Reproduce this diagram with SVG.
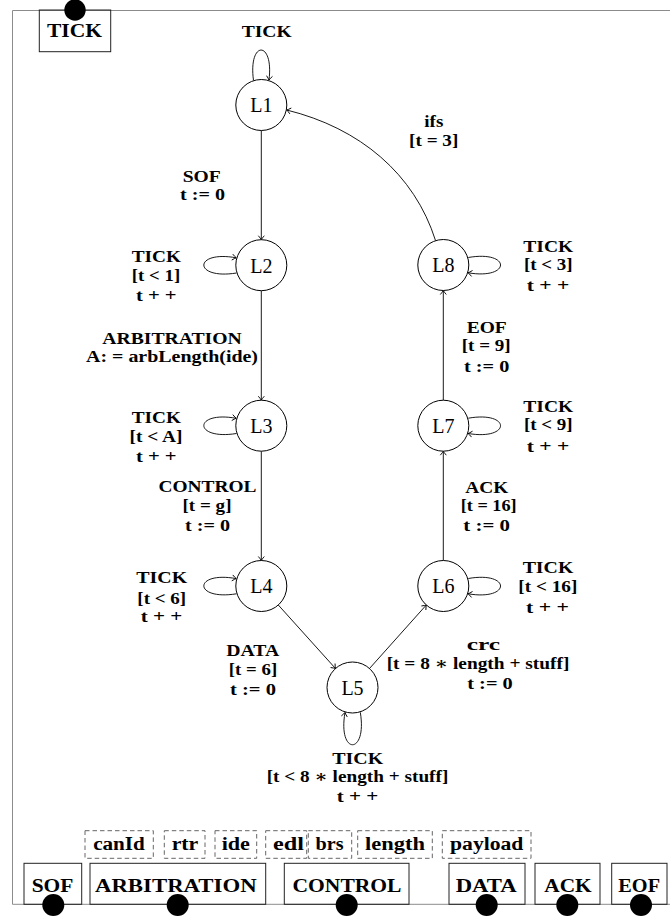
<svg xmlns="http://www.w3.org/2000/svg" width="670" height="918" viewBox="0 0 670 918">
<style>
.fr{fill:none;stroke:#8c8c8c;stroke-width:1}
.st{fill:#fff;stroke:#000;stroke-width:1}
.bx{fill:none;stroke:#222;stroke-width:1}
.db{fill:none;stroke:#666;stroke-width:1;stroke-dasharray:4.5 3}
.dot{fill:#000}
.e{fill:none;stroke:#000;stroke-width:0.9;marker-end:url(#arr)}
.lb{font-family:"Liberation Serif","DejaVu Serif",serif;font-weight:bold;font-size:16.8px;text-anchor:middle;fill:#000}
.ls{font-size:16px}
.bl{font-family:"Liberation Serif","DejaVu Serif",serif;font-weight:bold;font-size:18.5px;text-anchor:middle;fill:#000}
.nl{font-family:"Liberation Serif","DejaVu Serif",serif;font-size:20px;text-anchor:middle;fill:#000}
</style>
<defs>
<marker id="arr" viewBox="-5 -4 6 8" markerWidth="6" markerHeight="8" refX="0" refY="0" orient="auto" markerUnits="userSpaceOnUse">
<path d="M-4,-3 Q-1.2,-0.6 0,0 Q-1.2,0.6 -4,3" fill="none" stroke="#000" stroke-width="0.9"/>
</marker>
</defs>
<rect width="670" height="918" fill="#fff"/>
<path class="fr" d="M670,10.5 H12.5 V904.3 H670"/>

<g id="connectors">
<g id="e-L1-L1"><path class="e" d="M253.5,80.5 C248,40 274,40 269,80"/><text class="lb" x="266.7" y="36.7" textLength="50" lengthAdjust="spacingAndGlyphs">TICK</text></g>
<g id="e-L1-L2"><path class="e" d="M261.3,130.5 V239.7"/><text class="lb ls" x="201.7" y="181.8" textLength="38" lengthAdjust="spacingAndGlyphs">SOF</text><text class="lb ls" x="202.5" y="200.3" textLength="45" lengthAdjust="spacingAndGlyphs">t := 0</text></g>
<g id="e-L2-L2"><path class="e" d="M236.5,273 C193,280 193,250 236.2,257.8"/><text class="lb" x="156.3" y="261.7" textLength="49.3" lengthAdjust="spacingAndGlyphs">TICK</text><text class="lb" x="156" y="280.5" textLength="48.3" lengthAdjust="spacingAndGlyphs">[t &lt; 1]</text><text class="lb" x="156.3" y="301.3" textLength="40.7" lengthAdjust="spacingAndGlyphs">t + +</text></g>
<g id="e-L2-L3"><path class="e" d="M261.3,290.7 V400.2"/><text class="lb ls" x="172" y="343.5" textLength="139.5" lengthAdjust="spacingAndGlyphs">ARBITRATION</text><text class="lb ls" x="172" y="362" textLength="172" lengthAdjust="spacingAndGlyphs">A: = arbLength(ide)</text></g>
<g id="e-L3-L3"><path class="e" d="M236.5,433.5 C193,440.5 193,410.5 236.2,418.3"/><text class="lb" x="156.3" y="422.7" textLength="49.3" lengthAdjust="spacingAndGlyphs">TICK</text><text class="lb" x="156" y="441.5" textLength="53" lengthAdjust="spacingAndGlyphs">[t &lt; A]</text><text class="lb" x="156.3" y="462" textLength="40.7" lengthAdjust="spacingAndGlyphs">t + +</text></g>
<g id="e-L3-L4"><path class="e" d="M261.3,451.2 V560.5"/><text class="lb" x="207.5" y="492" textLength="98" lengthAdjust="spacingAndGlyphs">CONTROL</text><text class="lb" x="207" y="511" textLength="49" lengthAdjust="spacingAndGlyphs">[t = g]</text><text class="lb" x="207.5" y="531" textLength="45" lengthAdjust="spacingAndGlyphs">t := 0</text></g>
<g id="e-L4-L4"><path class="e" d="M236.5,593.8 C193,600.8 193,570.8 236.2,578.6"/><text class="lb" x="161.7" y="583" textLength="51" lengthAdjust="spacingAndGlyphs">TICK</text><text class="lb" x="161.7" y="603.5" textLength="48.7" lengthAdjust="spacingAndGlyphs">[t &lt; 6]</text><text class="lb" x="161.5" y="622" textLength="41.6" lengthAdjust="spacingAndGlyphs">t + +</text></g>
<g id="e-L4-L5"><path class="e" d="M278.3,605 L335.5,668.5"/><text class="lb" x="252.7" y="655.5" textLength="53" lengthAdjust="spacingAndGlyphs">DATA</text><text class="lb" x="253" y="675" textLength="48.3" lengthAdjust="spacingAndGlyphs">[t = 6]</text><text class="lb" x="253" y="695" textLength="46" lengthAdjust="spacingAndGlyphs">t := 0</text></g>
<g id="e-L5-L5"><path class="e" d="M360.3,712.3 C367.5,755.5 337.5,755.5 345,712.5"/><text class="lb" x="357.8" y="764" textLength="51" lengthAdjust="spacingAndGlyphs">TICK</text><text class="lb" x="357.5" y="781.5" textLength="181.7" lengthAdjust="spacingAndGlyphs">[t &lt; 8 ∗ length + stuff]</text><text class="lb" x="357.5" y="802" textLength="41.6" lengthAdjust="spacingAndGlyphs">t + +</text></g>
<g id="e-L5-L6"><path class="e" d="M369.5,668.5 L426.3,605"/><text class="lb" x="483.3" y="650" textLength="33.3" lengthAdjust="spacingAndGlyphs">crc</text><text class="lb" x="478" y="669" textLength="182.7" lengthAdjust="spacingAndGlyphs">[t = 8 ∗ length + stuff]</text><text class="lb" x="490" y="688.5" textLength="45.5" lengthAdjust="spacingAndGlyphs">t := 0</text></g>
<g id="e-L6-L6"><path class="e" d="M468.3,578.5 C511.3,571 511.3,601 468.1,593.8"/><text class="lb" x="548" y="573" textLength="50.7" lengthAdjust="spacingAndGlyphs">TICK</text><text class="lb" x="547.8" y="592" textLength="59" lengthAdjust="spacingAndGlyphs">[t &lt; 16]</text><text class="lb" x="547.5" y="613" textLength="43" lengthAdjust="spacingAndGlyphs">t + +</text></g>
<g id="e-L6-L7"><path class="e" d="M443.3,560.5 V451.2"/><text class="lb" x="486.7" y="492.5" textLength="43" lengthAdjust="spacingAndGlyphs">ACK</text><text class="lb" x="488.7" y="511" textLength="56" lengthAdjust="spacingAndGlyphs">[t = 16]</text><text class="lb" x="486.7" y="531" textLength="46.7" lengthAdjust="spacingAndGlyphs">t := 0</text></g>
<g id="e-L7-L7"><path class="e" d="M468.3,418.2 C511.3,410.7 511.3,440.7 468.1,433.5"/><text class="lb" x="548.3" y="411.7" textLength="50" lengthAdjust="spacingAndGlyphs">TICK</text><text class="lb" x="548.3" y="430" textLength="48.7" lengthAdjust="spacingAndGlyphs">[t &lt; 9]</text><text class="lb" x="548" y="451.5" textLength="42.6" lengthAdjust="spacingAndGlyphs">t + +</text></g>
<g id="e-L7-L8"><path class="e" d="M443.3,400.2 V290.5"/><text class="lb" x="486.7" y="332.5" textLength="40" lengthAdjust="spacingAndGlyphs">EOF</text><text class="lb" x="486.2" y="351" textLength="49" lengthAdjust="spacingAndGlyphs">[t = 9]</text><text class="lb" x="486.7" y="371.5" textLength="45.3" lengthAdjust="spacingAndGlyphs">t := 0</text></g>
<g id="e-L8-L8"><path class="e" d="M468.3,257.5 C511.3,250 511.3,280 468.1,272.8"/><text class="lb" x="548.3" y="251.7" textLength="50" lengthAdjust="spacingAndGlyphs">TICK</text><text class="lb" x="548.3" y="270" textLength="48.7" lengthAdjust="spacingAndGlyphs">[t &lt; 3]</text><text class="lb" x="548" y="291" textLength="42.6" lengthAdjust="spacingAndGlyphs">t + +</text></g>
<g id="e-L8-L1"><path class="e" d="M435.5,240.5 C414.5,174 360,128 286.7,110"/><text class="lb" x="433.8" y="126.7" textLength="19" lengthAdjust="spacingAndGlyphs">ifs</text><text class="lb" x="433.7" y="145.5" textLength="49.3" lengthAdjust="spacingAndGlyphs">[t = 3]</text></g>
</g>

<g id="L1"><circle class="st" cx="261.3" cy="105" r="25.5"/><text class="nl" x="261.3" y="112.3">L1</text></g>
<g id="L2"><circle class="st" cx="261.3" cy="265.2" r="25.5"/><text class="nl" x="261.3" y="272.5">L2</text></g>
<g id="L3"><circle class="st" cx="261.3" cy="425.7" r="25.5"/><text class="nl" x="261.3" y="433">L3</text></g>
<g id="L4"><circle class="st" cx="261.3" cy="586" r="25.5"/><text class="nl" x="261.3" y="593.3">L4</text></g>
<g id="L5"><circle class="st" cx="352.5" cy="687.5" r="25.5"/><text class="nl" x="352.5" y="694.8">L5</text></g>
<g id="L6"><circle class="st" cx="443.3" cy="586" r="25.5"/><text class="nl" x="443.3" y="593.3">L6</text></g>
<g id="L7"><circle class="st" cx="443.3" cy="425.7" r="25.5"/><text class="nl" x="443.3" y="433">L7</text></g>
<g id="L8"><circle class="st" cx="443.3" cy="265" r="25.5"/><text class="nl" x="443.3" y="272.3">L8</text></g>

<g id="tick-box"><rect class="bx" x="39.3" y="10" width="71.4" height="41.7"/><text class="bl" x="74.5" y="37.3" textLength="55" lengthAdjust="spacingAndGlyphs">TICK</text><circle class="dot" cx="75" cy="10" r="10.7"/></g>

<g id="f-canId"><rect class="db" x="85" y="830.7" width="68.3" height="27.6"/><text class="bl" x="119" y="850" textLength="51.7" lengthAdjust="spacingAndGlyphs">canId</text></g>
<g id="f-rtr"><rect class="db" x="164.3" y="830.7" width="40.7" height="27.6"/><text class="bl" x="185" y="850" textLength="26.7" lengthAdjust="spacingAndGlyphs">rtr</text></g>
<g id="f-ide"><rect class="db" x="215" y="830.7" width="41.7" height="27.6"/><text class="bl" x="235.8" y="850" textLength="28.3" lengthAdjust="spacingAndGlyphs">ide</text></g>
<g id="f-edl"><rect class="db" x="265.7" y="830.7" width="41" height="27.6"/><text class="bl" x="288.5" y="850" textLength="31" lengthAdjust="spacingAndGlyphs">edl</text></g>
<g id="f-brs"><rect class="db" x="308.3" y="830.7" width="43.4" height="27.6"/><text class="bl" x="329.5" y="850" textLength="28" lengthAdjust="spacingAndGlyphs">brs</text></g>
<g id="f-length"><rect class="db" x="357.7" y="830.7" width="74.6" height="27.6"/><text class="bl" x="395" y="850" textLength="60" lengthAdjust="spacingAndGlyphs">length</text></g>
<g id="f-payload"><rect class="db" x="442.3" y="830.7" width="88.7" height="27.6"/><text class="bl" x="486.7" y="850" textLength="73.3" lengthAdjust="spacingAndGlyphs">payload</text></g>

<g id="b-SOF"><rect class="bx" x="24" y="863.3" width="57.7" height="41"/><text class="bl" x="52.5" y="891.7" textLength="41.7" lengthAdjust="spacingAndGlyphs">SOF</text><circle class="dot" cx="53.3" cy="905" r="11"/></g>
<g id="b-ARBITRATION"><rect class="bx" x="90" y="863.3" width="175.7" height="41"/><text class="bl" x="175.8" y="891.7" textLength="161.7" lengthAdjust="spacingAndGlyphs">ARBITRATION</text><circle class="dot" cx="177.7" cy="905" r="11"/></g>
<g id="b-CONTROL"><rect class="bx" x="284.3" y="863.3" width="124.7" height="41"/><text class="bl" x="347" y="891.7" textLength="109" lengthAdjust="spacingAndGlyphs">CONTROL</text><circle class="dot" cx="346.7" cy="905" r="11"/></g>
<g id="b-DATA"><rect class="bx" x="449" y="863.3" width="76" height="41"/><text class="bl" x="486.2" y="891.7" textLength="61" lengthAdjust="spacingAndGlyphs">DATA</text><circle class="dot" cx="486.7" cy="905" r="11"/></g>
<g id="b-ACK"><rect class="bx" x="535" y="863.3" width="65" height="41"/><text class="bl" x="568" y="891.7" textLength="47.4" lengthAdjust="spacingAndGlyphs">ACK</text><circle class="dot" cx="567.3" cy="905" r="11"/></g>
<g id="b-EOF"><rect class="bx" x="611.7" y="863.3" width="55.3" height="41"/><text class="bl" x="639.2" y="891.7" textLength="41.7" lengthAdjust="spacingAndGlyphs">EOF</text><circle class="dot" cx="641" cy="905" r="11"/></g>
</svg>
